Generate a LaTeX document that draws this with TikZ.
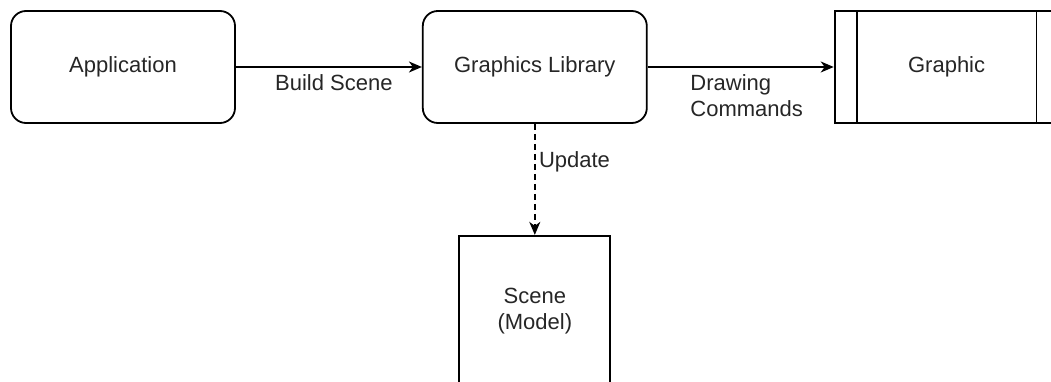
\documentclass[tikz,border=0pt]{standalone}
\usepackage{fontspec}
\setmainfont{Liberation Sans}
\usetikzlibrary{positioning,arrows.meta}

\begin{document}
\begin{tikzpicture} [
  x=1pt, y=1pt,
  node distance=186pt,
  font=\fontsize{22}{26}\selectfont,
  block/.style={rectangle,draw,line width=1.8pt,rounded corners=15pt,
    minimum width=224pt,minimum height=112pt,text=black!85},
  output/.style={rectangle,draw,line width=1.8pt,
    minimum width=224pt,minimum height=112pt,text=black!85},
  model/.style={rectangle,draw,line width=1.8pt,
    minimum width=151pt,minimum height=150pt,text=black!85},
  flow/.style={-{Stealth[length=13pt,width=11pt,inset=4pt]},line width=1.8pt},
  label/.style={text=black!85}]

\useasboundingbox (0,0) rectangle (1051,-382);

\node[block] (app) at (123,-67) {Application};
\node[block,right=of app] (lib) {Graphics Library};
\node[output,right=of lib] (gfx) {Graphic};
\node[model,below=111pt of lib] (scene) {\begin{tabular}{c}Scene\\(Model)\end{tabular}};

% side bars of the output box
\draw[line width=1.8pt] ([xshift=23pt]gfx.north west) -- ([xshift=23pt]gfx.south west);
\draw[line width=1.8pt] ([xshift=-23pt]gfx.north east) -- ([xshift=-23pt]gfx.south east);

\draw[flow] (app) -- node[label,below=3pt,xshift=5pt] {Build Scene} (lib);
\draw[flow] (lib) -- node[label,below=3pt,xshift=6pt,align=left] {Drawing\\Commands} (gfx);
\draw[flow,dash pattern=on 6pt off 4pt] (lib) -- node[label,pos=0.34,right=0pt] {Update} (scene);
\end{tikzpicture}
\end{document}
